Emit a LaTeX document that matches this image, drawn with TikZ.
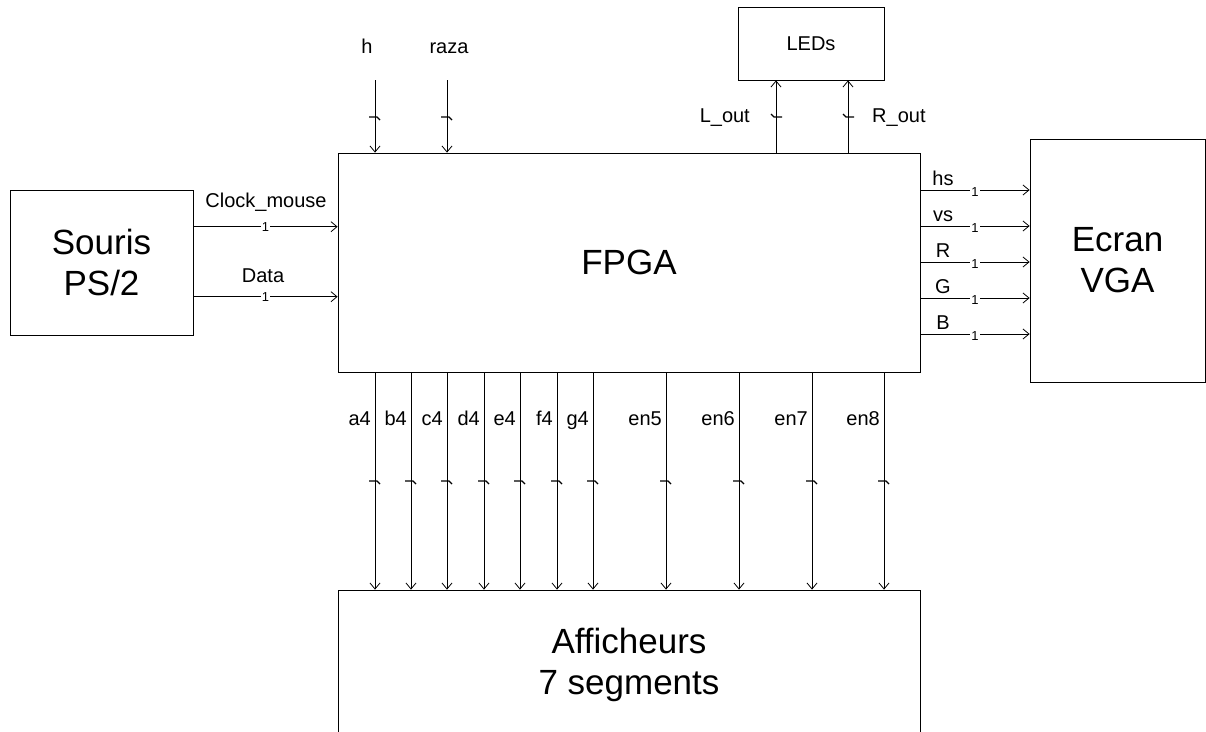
\documentclass[tikz,border=0pt]{standalone}
\usepackage{fontspec}
\setmainfont{Liberation Sans}
\usetikzlibrary{arrows.meta}

\tikzset{
  bloc/.style={draw, line width=0.8pt, align=center, inner sep=0pt, font=\fontsize{35}{41}\selectfont},
  fil/.style={line width=0.8pt, -{Straight Barb[length=6pt,width=10pt]}},
  sig/.style={font=\fontsize{20}{24}\selectfont, inner sep=0pt},
  un/.style={font=\fontsize{13}{15}\selectfont, fill=white, inner sep=1pt},
  tic/.pic={\draw[line width=1.1pt] (-6,0) -- (2,0) -- (5,3);}
}

\begin{document}
\begin{tikzpicture}[x=1pt, y=-1pt]
  \clip (0,0) rectangle (1206,731);

  % blocs
  \node[bloc, minimum width=183pt, minimum height=145pt] (souris) at (101.5,262.5) {Souris\\PS/2};
  \node[bloc, minimum width=582pt, minimum height=219pt] (fpga) at (629,262.5) {FPGA};
  \node[bloc, minimum width=175pt, minimum height=243pt] (ecran) at (1117.5,260.5) {Ecran\\VGA};
  \node[bloc, sig, inner sep=0pt, minimum width=146pt, minimum height=73pt] (leds) at (811,43.5) {LEDs};
  \node[bloc, minimum width=582pt, minimum height=150pt] (aff) at (629,665) {Afficheurs\\7 segments};

  % entrées en haut
  \coordinate (h) at (375,80);
  \coordinate (raza) at (447,80);
  \node[sig, anchor=base] (lh) at (367,53) {h};
  \node[sig, anchor=base] (lraza) at (449,53) {raza};
  \draw[fil] (h) -- (h |- fpga.north);
  \draw[fil] (raza) -- (raza |- fpga.north);
  \pic at (375,117) {tic};
  \pic at (447,117) {tic};

  % sorties vers les LEDs
  \draw[fil] (776,0 |- fpga.north) -- (776,0 |- leds.south);
  \draw[fil] (848,0 |- fpga.north) -- (848,0 |- leds.south);
  \pic[rotate=180] at (776,117) {tic};
  \pic[rotate=180] at (848,117) {tic};
  \node[sig, anchor=base east] (lgauche) at (750,122) {L\_out};
  \node[sig, anchor=base west] (ldroite) at (872,122) {R\_out};

  % souris
  \draw[fil] (souris.east |- 0,226.7) -- (fpga.west |- 0,226.7) node[un, pos=0.5] (uclk) {1};
  \draw[fil] (souris.east |- 0,296.7) -- (fpga.west |- 0,296.7) node[un, pos=0.5] (udata) {1};
  \node[sig, anchor=base] (lclk) at (266,207) {Clock\_mouse};
  \node[sig, anchor=base] (ldata) at (263,282) {Data};

  % sorties VGA
  \foreach \py/\lab in {190/hs, 226/vs, 262/R, 298/G, 334/B} {
    \draw[fil] (fpga.east |- 0,\py) -- (ecran.west |- 0,\py) node[un, pos=0.5, yshift=-2.5pt] (u\lab) {1};
    \node[sig, anchor=base] (l\lab) at (943,\py-5) {\lab};
  }

  % afficheurs
  \foreach \px/\lab in {375/a4, 411/b4, 447/c4, 484/d4, 520/e4, 557/f4, 593/g4, 666/en5, 739/en6, 812/en7, 884/en8} {
    \draw[fil] (\px,0 |- fpga.south) -- (\px,0 |- aff.north);
    \pic at (\px,481) {tic};
    \node[sig, anchor=base east] (l\lab) at (\px-4,425) {\lab};
  }
\end{tikzpicture}
\end{document}
